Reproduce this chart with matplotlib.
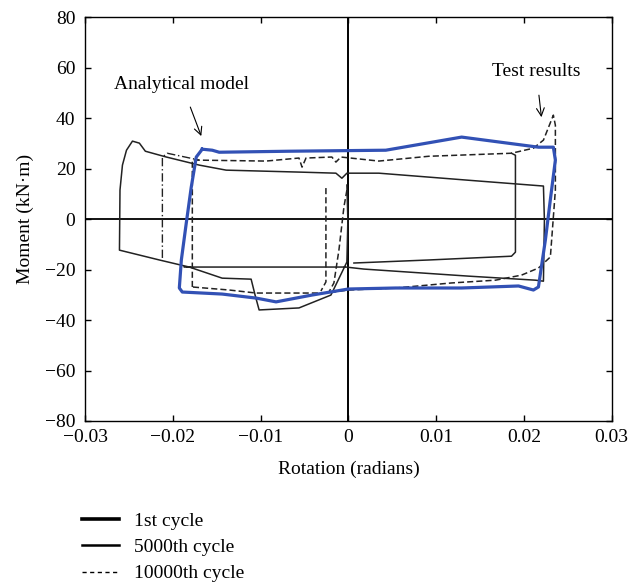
import matplotlib
matplotlib.use("Agg")
import matplotlib.pyplot as plt
import numpy as np

plt.rcParams['font.family'] = ['Liberation Serif', 'DejaVu Serif']

# analytical model (blue loop)
model_rot = [-0.01665, -0.01551, -0.01472, -0.00676, 0.00426, 0.0129, 0.02165, 0.02335,
             0.02358, 0.0230, 0.02244, 0.02165, 0.02108, 0.01938, 0.0129, 0.0054, 0.0,
             -0.00415, -0.00824, -0.01051, -0.01438, -0.01892, -0.01926, -0.01903,
             -0.01847, -0.0179, -0.01733, -0.01665]
model_mom = [27.7, 27.3, 26.5, 26.9, 27.3, 32.5, 28.5, 28.5,
             23.4, 7.5, -8.3, -26.9, -28.1, -26.5, -27.3, -27.3, -27.7,
             -30.1, -32.8, -31.3, -29.7, -28.9, -27.3, -16.2,
             -1.6, 12.7, 24.6, 27.7]

# 5000th cycle (thin solid)
c5000_rot = [-0.01869, -0.00028, 0.00176, 0.01369, 0.02131, 0.02222, 0.02233, 0.02222,
             0.01369, 0.00347, -0.00017, -0.00074, -0.00142, -0.00528, -0.01392, -0.01699,
             -0.02074, -0.02313, -0.02381, -0.0246, -0.02528, -0.02574, -0.02602, -0.02608,
             -0.02153, -0.01813, -0.01438, -0.01108, -0.01063, -0.01017, -0.00563, -0.00199,
             -0.00017, -0.00006, -0.00017]
c5000_mom = [-19.0, -19.0, -19.8, -22.6, -24.2, -24.6, -0.4, 13.1,
             15.4, 18.2, 18.2, 16.2, 18.2, 18.6, 19.4, 21.4,
             24.6, 26.9, 30.1, 30.9, 27.3, 21.4, 11.5, -12.3,
             -16.2, -19.0, -23.4, -23.8, -30.1, -36.0, -35.2, -30.1,
             -17.0, -0.4, 13.5]

inner_rot = [0.00063, 0.00915, 0.01858, 0.01903, 0.01903, 0.01858]
inner_mom = [-17.4, -16.2, -14.7, -13.1, 25.3, 26.1]

left_rot = [-0.02119, -0.02119, -0.02063, -0.01699]
left_mom = [-15.4, 24.6, 26.1, 23.4]

# 10000th cycle (dashed)
c10k_rot = [-0.01778, -0.01778, -0.00938, -0.00563, -0.00528, -0.00483, -0.00188, -0.00142,
            -0.00085, 0.00347, 0.00915, 0.01858, 0.02108, 0.02222, 0.02335, 0.02358,
            0.02358, 0.02301, 0.02165, 0.01972, 0.01676, 0.01176, 0.0054, 0.0,
            -0.00256, -0.01051, -0.01358, -0.01778]
c10k_mom = [-26.9, 23.4, 23.0, 24.2, 20.6, 24.2, 24.6, 22.6,
            24.6, 23.0, 24.9, 26.1, 28.1, 31.3, 41.2, 37.2,
            11.5, -15.0, -19.4, -22.2, -24.2, -25.3, -27.3, -28.1,
            -29.3, -29.3, -28.1, -26.9]

drop1_rot = [-0.00017, -0.00051, -0.00108, -0.00165, -0.00222]
drop1_mom = [11.5, 4.8, -12.3, -25.3, -28.9]
drop2_rot = [-0.00256, -0.00256, -0.00313]
drop2_mom = [12.3, -24.9, -28.5]

xticks = [-0.03, -0.02, -0.01, 0, 0.01, 0.02, 0.03]
xlabels = ["\u22120.03", "\u22120.02", "\u22120.01", "0", "0.01", "0.02", "0.03"]
yticks = [-80, -60, -40, -20, 0, 20, 40, 60, 80]
ylabels = ["\u221280", "\u221260", "\u221240", "\u221220", "0", "20", "40", "60", "80"]

fig = plt.figure(figsize=(6.3, 5.86), dpi=100)
ax = fig.add_axes([0.135, 0.2816, 0.836, 0.689])

ax.axhline(0, color='black', lw=1.3, zorder=1)
ax.axvline(0, color='black', lw=1.4, zorder=1)

ax.plot(c5000_rot, c5000_mom, color='#222222', lw=1.1)
ax.plot(inner_rot, inner_mom, color='#222222', lw=1.1)
ax.plot(left_rot, left_mom, color='#222222', lw=1.0, ls=(0, (6, 2, 1, 2)))
ax.plot(c10k_rot, c10k_mom, color='#222222', lw=1.1, ls=(0, (4, 2)))
ax.plot(drop1_rot, drop1_mom, color='#222222', lw=1.1, ls=(0, (4, 2)))
ax.plot(drop2_rot, drop2_mom, color='#222222', lw=1.1, ls=(0, (4, 2)))
ax.plot(model_rot, model_mom, color='#3251b5', lw=2.3, zorder=5)

ax.annotate("Analytical model", xy=(-0.01676, 32.9), xytext=(-0.0190, 53.5),
            ha='center', va='center', fontsize=14,
            arrowprops=dict(arrowstyle='->', color='black', lw=0.8, shrinkA=9, shrinkB=0))
ax.annotate("Test results", xy=(0.02199, 40.4), xytext=(0.0214, 58.5),
            ha='center', va='center', fontsize=14,
            arrowprops=dict(arrowstyle='->', color='black', lw=0.8, shrinkA=9, shrinkB=0))

ax.set_xlim(-0.03, 0.03)
ax.set_ylim(-80, 80)
ax.set_xticks(xticks)
ax.set_xticklabels(xlabels)
ax.set_yticks(yticks)
ax.set_yticklabels(ylabels)
ax.tick_params(direction='in', length=4.5, width=1, top=True, right=True, labelsize=14)
ax.tick_params(axis='x', pad=6)
ax.tick_params(axis='y', pad=7)
for s in ax.spines.values():
    s.set_linewidth(1.0)

ax.set_xlabel("Rotation (radians)", fontsize=14, labelpad=10)
ax.set_ylabel("Moment (kN\u00b7m)", fontsize=14, labelpad=8)

h1, = ax.plot([], [], color='black', lw=2.6, label='1st cycle')
h2, = ax.plot([], [], color='black', lw=1.8, label='5000th cycle')
h3, = ax.plot([], [], color='black', lw=1.0, ls=(0, (3, 2.5)), label='10000th cycle')
fig.legend(handles=[h1, h2, h3], loc='upper left', bbox_to_anchor=(0.13, 0.126),
           frameon=False, fontsize=14, handlelength=1.9, handletextpad=0.8,
           labelspacing=0.45, borderaxespad=0, borderpad=0)

fig.savefig("out.png", dpi=100)
